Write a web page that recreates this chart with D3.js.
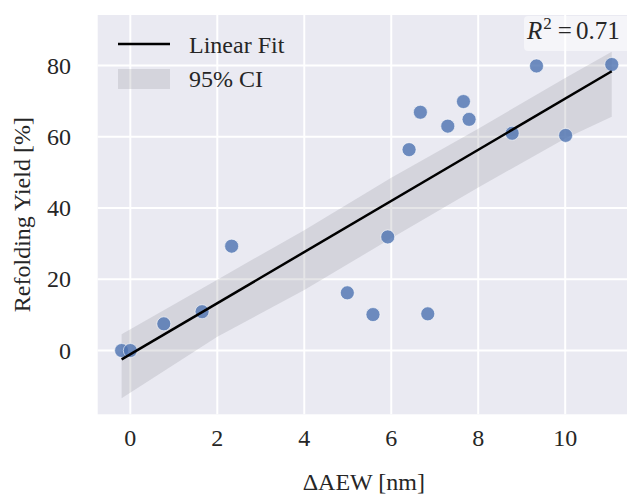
<!DOCTYPE html>
<html>
<head>
<meta charset="utf-8">
<script src="https://cdn.jsdelivr.net/npm/d3@7"></script>
<style>
  body { margin: 0; background: #fff; }
  text { font-family: "Liberation Serif", "Times New Roman", serif; fill: #262626; }
</style>
</head>
<body>
<svg id="chart"></svg>
<script>
// measured points
var aew   = [-0.2, 0, 0.77, 1.65, 2.33, 4.99, 5.58, 5.92, 6.84, 6.41, 6.67, 7.30, 7.66, 7.79, 8.78, 9.34, 10.01, 11.07];
var yield_ = [0, 0, 7.5, 10.9, 29.3, 16.2, 10.1, 31.9, 10.3, 56.4, 66.9, 63.0, 69.9, 64.9, 61.0, 79.9, 60.4, 80.3];

// fit line + CI band
var fitX = [-0.2, 11.07];
var fitY = [-2.5, 78.4];
var bandX = [-0.2, 2, 4, 6, 8, 10, 11.07];
var bandHi = [4.6, 19.9, 33.8, 48.5, 62.3, 76.5, 83.9];
var bandLo = [-13.4, 3.9, 17.0, 31.5, 45.8, 59.5, 65.6];

var xTicks = [0, 2, 4, 6, 8, 10];
var yTicks = [0, 20, 40, 60, 80];
var r2Label = "0.71";

const W = 627, H = 496;
const pL = 97.7, pR = 630, pT = 15, pB = 414.3;

const svg = d3.select('#chart').attr('width', W).attr('height', H);

const x = d3.scaleLinear().domain([-0.75, 11.49]).range([pL, pR]);
const y = d3.scaleLinear().domain([-17.9, 94.2]).range([pB, pT]);

svg.append('rect')
    .attr('x', pL).attr('y', pT)
    .attr('width', pR - pL).attr('height', pB - pT)
    .attr('fill', '#eaeaf2');

// grid
svg.append('g').selectAll('line')
    .data(xTicks).join('line')
    .attr('x1', d => x(d)).attr('x2', d => x(d))
    .attr('y1', pT).attr('y2', pB)
    .attr('stroke', '#fff').attr('stroke-width', 2);
svg.append('g').selectAll('line')
    .data(yTicks).join('line')
    .attr('x1', pL).attr('x2', pR)
    .attr('y1', d => y(d)).attr('y2', d => y(d))
    .attr('stroke', '#fff').attr('stroke-width', 2);

// tick labels
svg.append('g').selectAll('text')
    .data(xTicks).join('text')
    .attr('x', d => x(d)).attr('y', 446)
    .attr('text-anchor', 'middle')
    .style('font-size', '24px')
    .text(d => d);
svg.append('g').selectAll('text')
    .data(yTicks).join('text')
    .attr('x', 71).attr('y', d => y(d) + 8)
    .attr('text-anchor', 'end')
    .style('font-size', '24px')
    .text(d => d);

svg.append('text')
    .attr('x', (pL + pR) / 2).attr('y', 490)
    .attr('text-anchor', 'middle')
    .style('font-size', '24px')
    .text('ΔAEW [nm]');
svg.append('text')
    .attr('transform', 'translate(30,' + (pT + pB) / 2 + ') rotate(-90)')
    .attr('text-anchor', 'middle')
    .style('font-size', '24px')
    .text('Refolding Yield [%]');

// CI band
const band = bandX.map((d, i) => [d, bandLo[i], bandHi[i]]);
svg.append('path')
    .datum(band)
    .attr('d', d3.area().x(d => x(d[0])).y0(d => y(d[1])).y1(d => y(d[2])))
    .attr('fill', '#7f7f88')
    .attr('fill-opacity', 0.2);

// points
svg.append('g').selectAll('circle')
    .data(aew.map((d, i) => [d, yield_[i]])).join('circle')
    .attr('cx', d => x(d[0])).attr('cy', d => y(d[1]))
    .attr('r', 7)
    .attr('fill', '#4c72b0')
    .attr('fill-opacity', 0.8)
    .attr('stroke', '#fff').attr('stroke-width', 0.6);

// fit line
svg.append('line')
    .attr('x1', x(fitX[0])).attr('y1', y(fitY[0]))
    .attr('x2', x(fitX[1])).attr('y2', y(fitY[1]))
    .attr('stroke', '#000').attr('stroke-width', 2.5);

// legend
const lg = svg.append('g');
lg.append('line')
    .attr('x1', 118).attr('x2', 170).attr('y1', 44).attr('y2', 44)
    .attr('stroke', '#000').attr('stroke-width', 2.5);
lg.append('rect')
    .attr('x', 118).attr('y', 69).attr('width', 52).attr('height', 20)
    .attr('fill', '#7f7f88').attr('fill-opacity', 0.2);
lg.append('text').attr('x', 189).attr('y', 53).style('font-size', '24px').text('Linear Fit');
lg.append('text').attr('x', 189).attr('y', 87).style('font-size', '24px').text('95% CI');

// R^2 box
svg.append('rect')
    .attr('x', 524).attr('y', 16).attr('width', 110).attr('height', 35).attr('rx', 4)
    .attr('fill', '#fff').attr('fill-opacity', 0.5);
const r2 = svg.append('text').attr('x', 527).attr('y', 39).style('font-size', '25px');
r2.append('tspan').style('font-style', 'italic').text('R');
r2.append('tspan').attr('dy', -10).attr('dx', 1).style('font-size', '17px').text('2');
r2.append('tspan').attr('dy', 10).attr('dx', 6).text('=');
r2.append('tspan').attr('dx', 4).text(r2Label);
</script>
</body>
</html>
